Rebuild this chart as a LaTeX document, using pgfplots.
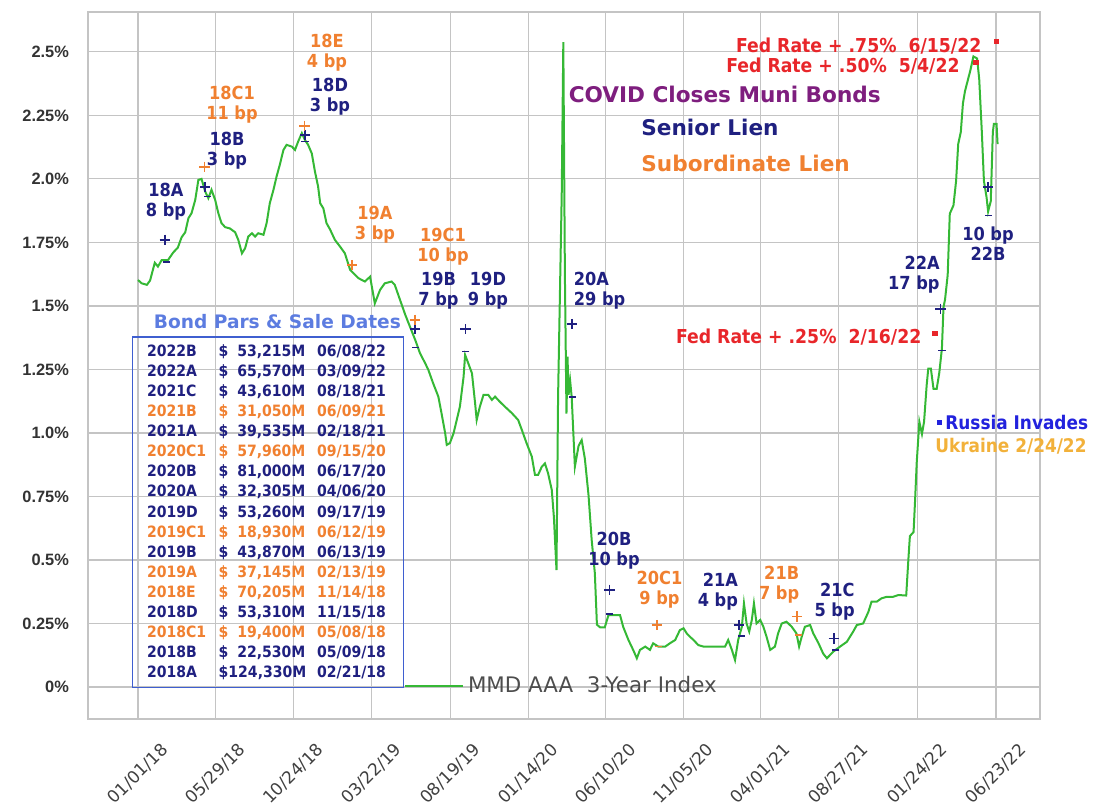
\documentclass[border=0pt]{standalone}
\usepackage{pgfplots}
\pgfplotsset{compat=1.18}
\usepackage{pgfplotstable}
\usepackage{fontspec}
\setmainfont{DejaVu Sans}
\newfontfamily\dvc{DejaVu Sans Condensed}
\newfontfamily\lib{Liberation Sans}
\definecolor{navy}{HTML}{1F2080}
\definecolor{orng}{HTML}{F08030}
\definecolor{fedred}{HTML}{E8262A}
\definecolor{purp}{HTML}{7E1E7E}
\definecolor{rblue}{HTML}{2222DD}
\definecolor{gold}{HTML}{F2B13A}
\definecolor{titleblue}{HTML}{5C7CE0}
\definecolor{tableblue}{HTML}{3F5FD0}
\definecolor{mmdgreen}{HTML}{35B835}
\definecolor{gridgray}{HTML}{C4C4C4}
\definecolor{ytext}{HTML}{333333}
\definecolor{xtext}{HTML}{404040}
\definecolor{leggray}{HTML}{4D4D4D}
\tikzset{annot/.style={font=\dvc\bfseries\fontsize{9}{10}\selectfont, inner sep=0pt, align=center}}

\pgfplotstableread{
day val
0 1.602
7 1.589
17 1.583
23 1.600
32 1.670
38 1.655
45 1.680
57 1.680
67 1.710
76 1.730
83 1.770
90 1.790
96 1.845
102 1.865
109 1.917
115 1.996
121 2.000
128 1.950
134 1.924
140 1.957
147 1.917
153 1.865
159 1.826
166 1.810
175 1.805
185 1.790
191 1.760
198 1.707
204 1.727
210 1.773
217 1.786
223 1.773
229 1.786
239 1.780
245 1.826
251 1.904
258 1.957
264 2.010
270 2.055
277 2.114
283 2.134
293 2.127
299 2.114
305 2.147
312 2.180
318 2.153
324 2.134
331 2.100
337 2.029
343 1.970
347 1.904
353 1.884
359 1.826
366 1.800
375 1.760
385 1.733
394 1.707
404 1.642
420 1.609
432 1.596
442 1.615
451 1.510
461 1.563
470 1.589
483 1.596
489 1.583
499 1.524
509 1.465
518 1.418
528 1.366
537 1.314
547 1.274
553 1.248
562 1.196
572 1.143
578 1.078
585 0.999
588 0.953
594 0.960
601 0.999
607 1.051
613 1.103
620 1.220
623 1.307
629 1.274
636 1.235
642 1.117
645 1.051
651 1.103
658 1.150
667 1.150
674 1.130
680 1.143
689 1.123
699 1.103
712 1.078
724 1.051
731 1.012
740 0.960
750 0.907
756 0.835
762 0.835
769 0.867
775 0.880
781 0.841
788 0.776
792 0.670
797 0.460
800 1.140
807 1.945
810 2.538
813 1.620
816 1.076
818 1.300
820 1.150
823 1.205
826 1.140
832 0.867
839 0.949
845 0.972
851 0.899
858 0.755
864 0.579
870 0.449
874 0.245
880 0.235
889 0.235
896 0.283
908 0.283
918 0.283
924 0.237
934 0.185
943 0.146
950 0.113
956 0.146
966 0.159
975 0.146
981 0.172
991 0.159
1004 0.159
1013 0.172
1023 0.185
1032 0.224
1039 0.231
1045 0.211
1051 0.198
1058 0.185
1067 0.165
1077 0.159
1102 0.159
1118 0.159
1124 0.185
1131 0.146
1137 0.106
1143 0.185
1150 0.237
1154 0.329
1159 0.250
1164 0.218
1169 0.264
1173 0.329
1178 0.250
1185 0.264
1191 0.237
1197 0.198
1204 0.146
1213 0.159
1219 0.211
1226 0.250
1235 0.257
1245 0.237
1254 0.211
1259 0.159
1264 0.198
1270 0.237
1280 0.244
1286 0.211
1296 0.172
1305 0.131
1312 0.113
1318 0.126
1324 0.139
1337 0.159
1350 0.178
1362 0.218
1369 0.244
1381 0.250
1391 0.296
1397 0.336
1407 0.336
1416 0.349
1426 0.355
1438 0.355
1448 0.362
1463 0.360
1467 0.498
1470 0.594
1477 0.610
1480 0.739
1483 0.883
1488 1.044
1493 0.996
1497 1.044
1502 1.189
1505 1.253
1510 1.253
1515 1.173
1521 1.173
1526 1.237
1531 1.333
1534 1.494
1537 1.526
1542 1.622
1546 1.863
1553 1.896
1558 1.992
1562 2.137
1567 2.185
1571 2.297
1575 2.346
1579 2.378
1585 2.426
1591 2.482
1598 2.474
1602 2.394
1607 2.185
1611 1.992
1616 1.928
1619 1.872
1624 1.912
1628 2.185
1630 2.217
1635 2.217
1637 2.137
}\mmd

\newcommand{\brow}[4]{\textcolor{#1}{\makebox[35.8pt][l]{#2}\makebox[43.35pt][l]{\$\hfill #3}\hspace{5.85pt}#4}}

\begin{document}
\begin{tikzpicture}
\useasboundingbox (-44pt,-44.5pt) rectangle (504pt,359.5pt);
\begin{axis}[
  scale only axis, width=476pt, height=353.5pt,
  xmin=-95.2, xmax=1717.8, ymin=-0.126, ymax=2.657,
  clip=false,
  xtick={0,148,296,445,595,743,891,1039,1186,1334,1484,1634},
  xticklabels={01/01/18,05/29/18,10/24/18,03/22/19,08/19/19,01/14/20,06/10/20,11/05/20,04/01/21,08/27/21,01/24/22,06/23/22},
  ytick={0,0.25,0.5,0.75,1,1.25,1.5,1.75,2,2.25,2.5},
  yticklabels={0\%,0.25\%,0.5\%,0.75\%,1.0\%,1.25\%,1.5\%,1.75\%,2.0\%,2.25\%,2.5\%},
  grid=major, major grid style={gridgray, line width=0.6pt},
  axis line style={gridgray, line width=0.6pt},
  major tick length=0pt,
  xticklabel shift=27.5pt,
  x tick label style={rotate=45, anchor=center, font=\fontsize{8.5}{10}\selectfont, text=xtext},
  yticklabel shift=6pt,
  y tick label style={font=\lib\bfseries\fontsize{8.2}{9}\selectfont, text=ytext},
  legend style={at={(axis cs:506.6,0.004)}, anchor=west, draw=none, fill=none, inner sep=0pt, outer sep=0pt,
    font=\fontsize{10.7}{12}\selectfont, text=leggray, cells={anchor=west}},
  legend image code/.code={\draw[#1] (0pt,0pt) -- (24pt,0pt); \path (24pt,0pt) -- (29pt,0pt);},
]
\addplot[mmdgreen, line width=1pt, mark=none] table[x=day, y=val] {\mmd};
\addlegendentry{MMD AAA\ \ 3-Year Index}

% senior lien markers
\addplot[forget plot, only marks, mark=+, mark size=2.6pt, navy, line width=0.8pt] coordinates {
(51,1.760) (128,1.967) (318,2.173) (528,1.408) (624,1.408) (826,1.429) (898,0.382) (1144,0.244) (1325,0.191) (1528,1.489) (1619,1.968)};
\addplot[forget plot, only marks, mark=-, mark size=1.8pt, navy, line width=0.8pt] coordinates {
(54,1.674) (132,1.930) (318,2.147) (528,1.337) (624,1.320) (827,1.142) (898,0.287) (1149,0.200) (1329,0.146) (1531,1.325) (1619,1.856)};
% subordinate lien markers
\addplot[forget plot, only marks, mark=+, mark size=2.6pt, orng, line width=0.8pt] coordinates {
(127,2.048) (317,2.209) (408,1.661) (527,1.445) (988,0.244) (1255,0.277)};
\addplot[forget plot, only marks, mark=-, mark size=1.8pt, orng, line width=0.8pt] coordinates {
(991,0.159) (1258,0.205)};
% fed rate and invasion points
\addplot[forget plot, only marks, mark=square*, mark size=1.1pt, fedred] coordinates {
(1517.8,1.393) (1595.9,2.458) (1635.3,2.541)};
\addplot[forget plot, only marks, mark=square*, mark size=1.1pt, rblue] coordinates {(1526,1.041)};

% sale labels
\node[annot, text=navy] at (axis cs:53.3,1.911) {18A\\8 bp};
\node[annot, text=orng] at (axis cs:179,2.291) {18C1\\11 bp};
\node[annot, text=navy] at (axis cs:169.5,2.112) {18B\\3 bp};
\node[annot, text=orng] at (axis cs:359.9,2.496) {18E\\4 bp};
\node[annot, text=navy] at (axis cs:365.6,2.325) {18D\\3 bp};
\node[annot, text=orng] at (axis cs:451.3,1.821) {19A\\3 bp};
\node[annot, text=orng] at (axis cs:580.8,1.732) {19C1\\10 bp};
\node[annot, text=navy] at (axis cs:572.3,1.560) {19B\\7 bp};
\node[annot, text=navy] at (axis cs:666.5,1.560) {19D\\9 bp};
\node[annot, text=navy, anchor=west, align=left] at (axis cs:829.4,1.558) {20A\\29 bp};
\node[annot, text=navy] at (axis cs:906.5,0.535) {20B\\10 bp};
\node[annot, text=orng] at (axis cs:993.1,0.384) {20C1\\9 bp};
\node[annot, text=navy, anchor=east, align=right] at (axis cs:1143.2,0.375) {21A\\4 bp};
\node[annot, text=orng, anchor=east, align=right] at (axis cs:1259.8,0.402) {21B\\7 bp};
\node[annot, text=navy, anchor=east, align=right] at (axis cs:1365.5,0.336) {21C\\5 bp};
\node[annot, text=navy, anchor=east, align=right] at (axis cs:1527.3,1.622) {22A\\17 bp};
\node[annot, text=navy] at (axis cs:1618.7,1.744) {10 bp\\22B};

% headline texts
\node[anchor=west, inner sep=0pt, font=\bfseries\fontsize{10.8}{12}\selectfont, text=purp] at (axis cs:819.6,2.333) {COVID Closes Muni Bonds};
\node[anchor=west, inner sep=0pt, font=\bfseries\fontsize{10.8}{12}\selectfont, text=navy] at (axis cs:957.9,2.204) {Senior Lien};
\node[anchor=west, inner sep=0pt, font=\bfseries\fontsize{10.8}{12}\selectfont, text=orng] at (axis cs:957.9,2.062) {Subordinate Lien};

\node[anchor=east, inner sep=0pt, font=\dvc\bfseries\fontsize{9.6}{11}\selectfont, text=fedred] at (axis cs:1606.8,2.521) {Fed Rate + .75\%\ \ 6/15/22};
\node[anchor=east, inner sep=0pt, font=\dvc\bfseries\fontsize{9.6}{11}\selectfont, text=fedred] at (axis cs:1565.4,2.445) {Fed Rate + .50\%\ \ 5/4/22};
\node[anchor=east, inner sep=0pt, font=\dvc\bfseries\fontsize{9.6}{11}\selectfont, text=fedred] at (axis cs:1492.5,1.376) {Fed Rate + .25\%\ \ 2/16/22};
\node[anchor=west, inner sep=0pt, font=\dvc\bfseries\fontsize{9.4}{11}\selectfont, text=rblue] at (axis cs:1536.8,1.041) {Russia Invades};
\node[anchor=west, inner sep=0pt, font=\dvc\bfseries\fontsize{9.4}{11}\selectfont, text=gold] at (axis cs:1517.8,0.949) {Ukraine 2/24/22};

% bond table
\node[inner sep=0pt, font=\bfseries\fontsize{9.3}{10}\selectfont, text=titleblue] at (axis cs:265.5,1.438) {Bond Pars \& Sale Dates};
\draw[tableblue, line width=0.75pt] (axis cs:-10.1,-0.0012) rectangle (axis cs:505.2,1.377);
\node[anchor=north west, inner sep=0pt, align=left, font=\dvc\bfseries\fontsize{7.8}{10.05}\selectfont] at (axis cs:16.6,1.350) {%
\brow{navy}{2022B}{53,215M}{06/08/22}\\
\brow{navy}{2022A}{65,570M}{03/09/22}\\
\brow{navy}{2021C}{43,610M}{08/18/21}\\
\brow{orng}{2021B}{31,050M}{06/09/21}\\
\brow{navy}{2021A}{39,535M}{02/18/21}\\
\brow{orng}{2020C1}{57,960M}{09/15/20}\\
\brow{navy}{2020B}{81,000M}{06/17/20}\\
\brow{navy}{2020A}{32,305M}{04/06/20}\\
\brow{navy}{2019D}{53,260M}{09/17/19}\\
\brow{orng}{2019C1}{18,930M}{06/12/19}\\
\brow{navy}{2019B}{43,870M}{06/13/19}\\
\brow{orng}{2019A}{37,145M}{02/13/19}\\
\brow{orng}{2018E}{70,205M}{11/14/18}\\
\brow{navy}{2018D}{53,310M}{11/15/18}\\
\brow{orng}{2018C1}{19,400M}{05/08/18}\\
\brow{navy}{2018B}{22,530M}{05/09/18}\\
\brow{navy}{2018A}{124,330M}{02/21/18}};
\end{axis}
\end{tikzpicture}
\end{document}
